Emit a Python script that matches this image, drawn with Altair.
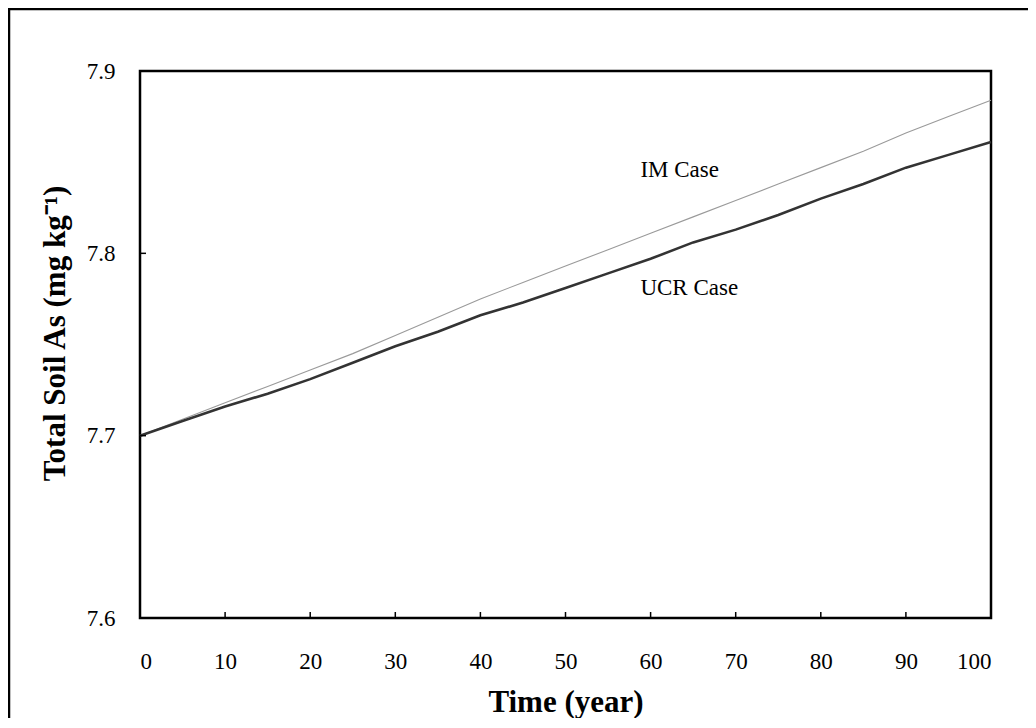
import altair as alt
import pandas as pd

# ---- data ----
years = [0, 5, 10, 15, 20, 25, 30, 35, 40, 45, 50, 55, 60, 65, 70, 75, 80, 85, 90, 95, 100]
ucr_case = [7.700, 7.708, 7.716, 7.723, 7.731, 7.740, 7.749, 7.757, 7.766, 7.773, 7.781,
            7.789, 7.797, 7.806, 7.813, 7.821, 7.830, 7.838, 7.847, 7.854, 7.861]
im_case = [7.700, 7.709, 7.718, 7.727, 7.736, 7.745, 7.755, 7.765, 7.775, 7.784, 7.793,
           7.802, 7.811, 7.820, 7.829, 7.838, 7.847, 7.856, 7.866, 7.875, 7.884]
x_ticks = [0, 10, 20, 30, 40, 50, 60, 70, 80, 90, 100]
y_ticks = [7.6, 7.7, 7.8, 7.9]
label_text = ["IM Case", "UCR Case"]
label_year = [58.8, 58.8]
label_value = [7.8457, 7.781]

FONT = "Liberation Serif"
W, H = 851, 547

im_df = pd.DataFrame({"year": years, "value": im_case})
ucr_df = pd.DataFrame({"year": years, "value": ucr_case})
xt_df = pd.DataFrame({"year": x_ticks})
yt_df = pd.DataFrame({"value": y_ticks})
lab_df = pd.DataFrame({"year": label_year, "value": label_value, "label": label_text})

xscale = alt.Scale(domain=[0, 100], nice=False)
yscale = alt.Scale(domain=[7.6, 7.9], nice=False, zero=False)

x_axis = alt.Axis(values=x_ticks, title="Time (year)", labelFont=FONT, labelFontSize=23,
                  labelColor="black", ticks=False, tickSize=0, domain=False, grid=False,
                  labelPadding=32, labelBaseline="top", titleFont=FONT, titleFontSize=31,
                  titleFontWeight="bold", titleColor="black", titleX=W / 2, titleY=84,
                  titleBaseline="middle", titleAlign="center", format="d")
y_axis = alt.Axis(values=y_ticks, title="Total Soil As (mg kg\u207b\u00b9)", labelFont=FONT,
                  labelFontSize=23, labelColor="black", ticks=False, tickSize=0, domain=False,
                  grid=False, labelPadding=25, titleFont=FONT, titleFontSize=31,
                  titleFontWeight="bold", titleColor="black", titleAngle=270, titleX=-85,
                  titleY=262, titleAlign="center", titleBaseline="middle", format=".1f")

X = alt.X("year:Q", scale=xscale, axis=x_axis)
Y = alt.Y("value:Q", scale=yscale, axis=y_axis)

im_line = alt.Chart(im_df).mark_line(color="#9a9a9a", strokeWidth=1.1).encode(x=X, y=Y)
ucr_line = alt.Chart(ucr_df).mark_line(color="#333333", strokeWidth=2.6).encode(x=X, y=Y)
x_tick_marks = alt.Chart(xt_df).mark_rule(color="black", strokeWidth=1.5).encode(
    x=X, y=alt.value(H), y2=alt.value(H - 6)
)
y_tick_marks = alt.Chart(yt_df).mark_rule(color="black", strokeWidth=1.5).encode(
    y=Y, x=alt.value(0), x2=alt.value(6)
)
labels = alt.Chart(lab_df).mark_text(font=FONT, fontSize=23, align="left",
                                     baseline="middle", color="black").encode(
    x=X, y=Y, text="label:N"
)
border = alt.Chart(pd.DataFrame({"k": [0]})).mark_rect(
    fill=None, fillOpacity=0, stroke="black", strokeWidth=2.5
).encode(
    x=alt.value(-131), x2=alt.value(2000), y=alt.value(-62), y2=alt.value(2000)
)

chart = alt.layer(im_line, ucr_line, x_tick_marks, y_tick_marks, labels, border).properties(
    width=W, height=H,
    autosize=alt.AutoSizeParams(type="none"),
    padding={"left": 132, "top": 63, "right": 37, "bottom": 100},
    background="white",
).configure(font=FONT).configure_view(stroke="black", strokeWidth=2.5).configure_axis(
    labelFont=FONT, titleFont=FONT
)

chart.save("out.html", embed_options={"renderer": "svg", "actions": False})
